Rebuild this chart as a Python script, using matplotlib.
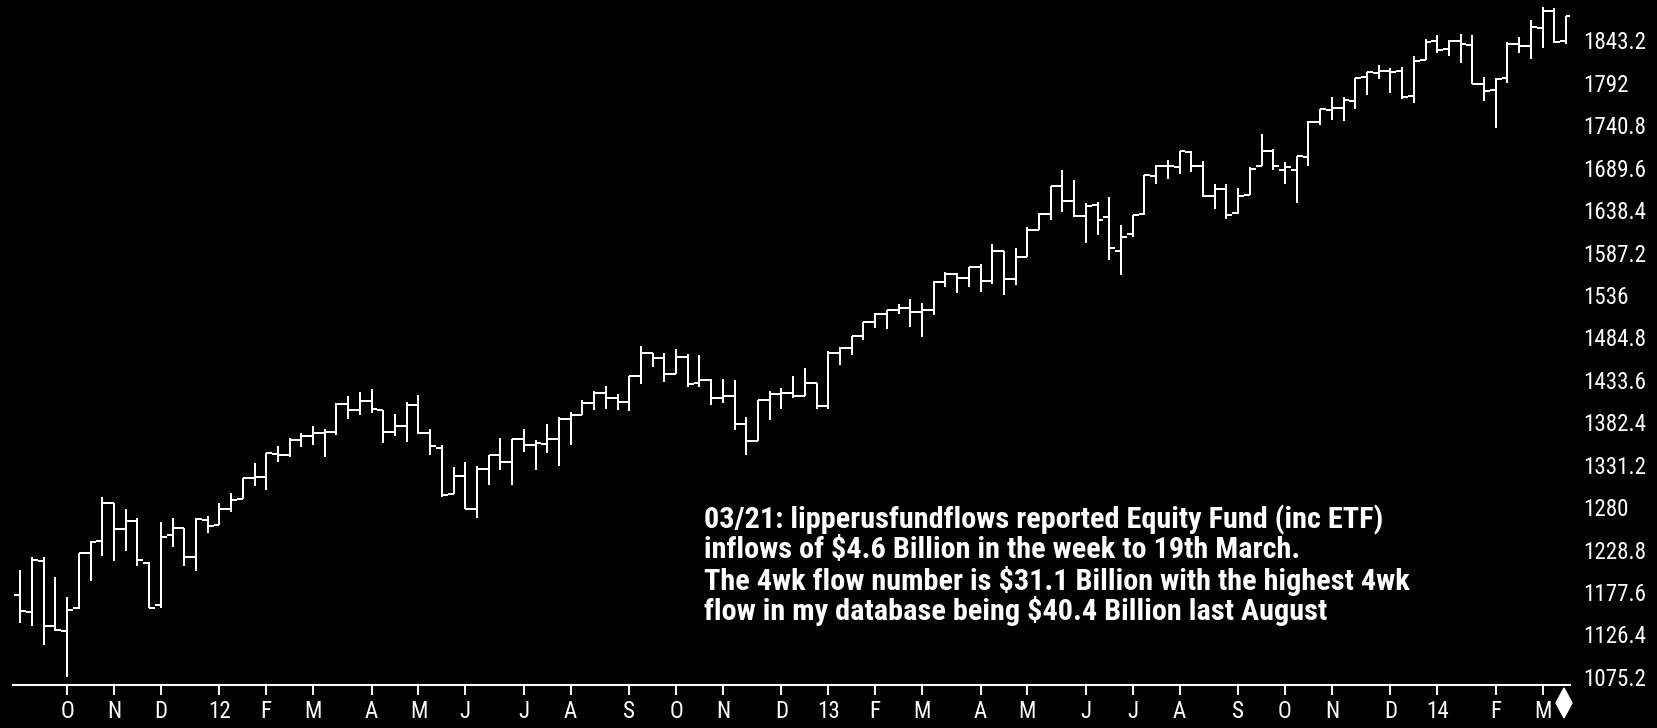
import matplotlib
matplotlib.use("Agg")
import matplotlib.pyplot as plt
from matplotlib import font_manager
from matplotlib.patches import Polygon
import pandas as pd

# Weekly S&P 500 bars, week ending Friday, from 2011-09-09 to 2014-03-21
first_week = "2011-09-09"

opens = [
    1174.0, 1153.5, 1214.6, 1136.9, 1131.2, 1158.2, 1224.5, 1238.7, 1285.0, 1253.2,
    1263.9, 1212.5, 1161.4, 1246.0, 1255.1, 1219.7, 1265.0, 1258.9, 1277.8, 1290.0,
    1315.3, 1316.2, 1344.3, 1343.1, 1361.2, 1366.2, 1369.6, 1370.8, 1405.0, 1397.1,
    1408.5, 1397.5, 1370.3, 1378.5, 1403.0, 1369.0, 1351.9, 1295.7, 1317.8, 1278.0,
    1325.9, 1343.0, 1334.9, 1362.3, 1354.7, 1356.5, 1362.3, 1385.8, 1391.0, 1405.9,
    1418.1, 1411.1, 1406.5, 1437.9, 1465.4, 1460.3, 1440.9, 1461.4, 1430.0, 1433.2,
    1411.3, 1414.0, 1379.9, 1359.9, 1409.2, 1417.0, 1418.1, 1413.5, 1430.2, 1402.4,
    1466.5, 1472.1, 1486.0, 1502.9, 1513.2, 1517.9, 1519.8, 1515.6, 1518.2, 1551.2,
    1560.7, 1556.9, 1569.2, 1553.3, 1588.6, 1555.3, 1582.3, 1614.4, 1633.7, 1667.5,
    1649.6, 1631.7, 1644.7, 1630.6, 1588.8, 1609.8, 1634.2, 1679.6, 1692.1, 1690.0,
    1708.0, 1691.0, 1655.3, 1664.3, 1635.0, 1656.9, 1691.7, 1709.9, 1687.3, 1687.2,
    1702.0, 1745.2, 1758.9, 1762.0, 1770.0, 1798.8, 1803.5, 1806.6, 1806.4, 1775.4,
    1820.0, 1842.6, 1832.3, 1842.3, 1837.9, 1791.0, 1782.7, 1798.0, 1838.6, 1836.8,
    1857.7, 1878.5, 1842.8,
]
highs = [
    1204.4, 1220.4, 1220.4, 1195.9, 1171.4, 1224.6, 1239.0, 1292.7, 1285.0, 1277.6,
    1267.0, 1213.5, 1262.0, 1267.1, 1255.1, 1267.0, 1269.4, 1284.6, 1296.8, 1315.5,
    1333.5, 1345.3, 1354.3, 1363.4, 1368.9, 1378.0, 1374.8, 1405.9, 1414.0, 1419.2,
    1422.4, 1397.5, 1392.8, 1406.6, 1415.3, 1373.9, 1354.5, 1328.5, 1334.9, 1329.1,
    1343.3, 1363.5, 1362.2, 1374.8, 1361.5, 1380.4, 1389.2, 1394.2, 1409.1, 1420.0,
    1426.7, 1416.9, 1438.0, 1474.5, 1465.6, 1465.4, 1471.0, 1464.3, 1464.0, 1435.0,
    1434.3, 1433.4, 1388.8, 1409.2, 1420.0, 1424.0, 1438.6, 1448.0, 1430.2, 1467.9,
    1472.8, 1486.0, 1503.3, 1514.4, 1518.3, 1524.7, 1530.9, 1525.8, 1552.5, 1563.6,
    1563.0, 1570.3, 1573.7, 1597.4, 1588.6, 1592.6, 1618.5, 1635.0, 1667.5, 1687.2,
    1674.2, 1646.5, 1648.7, 1654.2, 1620.1, 1632.1, 1680.2, 1693.1, 1698.8, 1709.7,
    1709.2, 1698.0, 1669.5, 1669.5, 1664.8, 1690.0, 1729.9, 1711.5, 1696.6, 1703.4,
    1745.3, 1759.8, 1775.2, 1774.5, 1798.2, 1804.8, 1813.6, 1810.0, 1811.5, 1823.8,
    1844.9, 1849.4, 1843.2, 1850.8, 1849.3, 1798.8, 1798.0, 1841.7, 1847.5, 1867.9,
    1883.6, 1882.4, 1872.0,
]
lows = [
    1140.1, 1136.1, 1114.2, 1131.1, 1074.8, 1157.0, 1191.5, 1220.5, 1215.4, 1226.6,
    1209.4, 1158.7, 1158.7, 1231.5, 1209.5, 1202.4, 1248.6, 1258.9, 1274.0, 1290.0,
    1306.1, 1300.5, 1334.5, 1340.8, 1352.3, 1354.9, 1340.0, 1366.7, 1386.9, 1391.5,
    1393.0, 1357.4, 1365.4, 1358.6, 1367.9, 1343.1, 1291.8, 1295.7, 1277.3, 1266.7,
    1306.6, 1324.4, 1306.6, 1346.6, 1325.4, 1345.1, 1329.2, 1354.7, 1391.0, 1397.5,
    1398.0, 1397.0, 1396.6, 1429.1, 1449.6, 1430.4, 1440.9, 1425.5, 1425.5, 1403.3,
    1405.6, 1373.0, 1343.4, 1359.9, 1385.4, 1398.1, 1411.9, 1413.5, 1398.1, 1398.1,
    1451.6, 1463.8, 1482.0, 1496.3, 1495.0, 1513.0, 1497.3, 1485.0, 1512.3, 1546.0,
    1538.6, 1545.6, 1539.5, 1548.6, 1536.0, 1548.5, 1581.3, 1614.4, 1626.7, 1635.5,
    1630.1, 1598.2, 1608.1, 1577.7, 1560.3, 1605.6, 1632.0, 1670.0, 1676.0, 1681.9,
    1684.9, 1654.2, 1639.4, 1627.5, 1633.4, 1656.9, 1691.7, 1687.1, 1670.4, 1646.5,
    1692.0, 1740.5, 1746.9, 1746.2, 1760.6, 1777.2, 1797.0, 1779.1, 1772.3, 1768.0,
    1820.0, 1827.7, 1823.7, 1815.3, 1790.3, 1770.5, 1737.9, 1791.8, 1828.0, 1821.0,
    1834.4, 1839.5, 1839.0,
]
closes = [
    1154.2, 1216.0, 1136.4, 1131.4, 1155.5, 1224.6, 1238.3, 1285.1, 1253.2, 1263.9,
    1215.7, 1158.7, 1244.3, 1255.2, 1219.7, 1265.3, 1257.6, 1277.8, 1289.1, 1315.4,
    1316.3, 1344.9, 1342.6, 1361.2, 1365.7, 1369.6, 1370.9, 1404.2, 1397.1, 1408.5,
    1398.1, 1370.3, 1378.5, 1403.4, 1369.1, 1353.4, 1295.2, 1317.8, 1278.0, 1325.7,
    1342.8, 1335.0, 1362.2, 1354.7, 1356.8, 1362.7, 1386.0, 1391.0, 1405.9, 1418.2,
    1411.1, 1406.6, 1437.9, 1465.8, 1460.2, 1440.7, 1460.9, 1428.6, 1433.2, 1411.9,
    1414.2, 1379.9, 1359.9, 1409.2, 1416.2, 1418.1, 1413.6, 1430.2, 1402.4, 1466.5,
    1472.1, 1486.0, 1503.0, 1513.2, 1517.9, 1519.8, 1515.6, 1518.2, 1551.2, 1560.7,
    1556.9, 1569.2, 1553.3, 1588.9, 1555.3, 1582.2, 1614.4, 1633.7, 1667.5, 1649.6,
    1630.7, 1643.4, 1626.7, 1592.4, 1606.3, 1631.9, 1680.2, 1692.1, 1691.7, 1709.7,
    1691.4, 1655.8, 1663.5, 1633.0, 1655.2, 1688.0, 1709.9, 1691.8, 1690.5, 1703.2,
    1744.5, 1759.8, 1761.6, 1770.6, 1798.2, 1804.8, 1805.8, 1805.1, 1775.3, 1818.3,
    1841.4, 1831.4, 1842.4, 1838.7, 1790.3, 1782.6, 1797.0, 1838.6, 1836.3, 1859.5,
    1878.0, 1841.1, 1872.0,
]

price_ticks = [1075.2, 1126.4, 1177.6, 1228.8, 1280, 1331.2, 1382.4, 1433.6,
               1484.8, 1536, 1587.2, 1638.4, 1689.6, 1740.8, 1792, 1843.2]

note_lines = [
    "03/21: lipperusfundflows reported Equity Fund (inc ETF)",
    "inflows of $4.6 Billion in the week to 19th March.",
    "The 4wk flow number is $31.1 Billion with the highest 4wk",
    "flow in my database being $40.4 Billion last August",
]

W, H = 1658, 728
FONTS = font_manager.fontManager.ttflist


def _weight(w):
    if isinstance(w, int):
        return w
    return {"bold": 700, "semibold": 600, "demibold": 600, "extra bold": 800,
            "heavy": 800, "black": 900}.get(str(w).lower(), 400)


def narrow_font():
    """Pick a narrow sans face (name, stretch); plain sans if there is none."""
    for name in ["Liberation Sans Narrow", "Arial Narrow", "Roboto Condensed",
                 "Open Sans Condensed", "Noto Sans Condensed", "DejaVu Sans Condensed",
                 "Noto Sans Display Condensed"]:
        if any(f.name == name for f in FONTS):
            return name, "normal"
    for fam in ["Noto Sans", "Open Sans", "Roboto", "DejaVu Sans", "Liberation Sans"]:
        for st in ("condensed", "semi-condensed"):
            if any(f.name == fam and str(f.stretch) == st for f in FONTS):
                return fam, st
    for f in FONTS:
        n = f.name.lower()
        if ("narrow" in n or "condensed" in n) and "mono" not in n:
            return f.name, "normal"
    return "Liberation Sans", "normal"


FONT, STRETCH = narrow_font()
BOLD_OK = any(f.name == FONT and _weight(f.weight) >= 600 for f in FONTS)
plt.rcParams["font.family"] = [FONT, "DejaVu Sans"]
plt.rcParams["font.stretch"] = STRETCH

dates = pd.date_range(first_week, periods=len(closes), freq="W-FRI")
xs = list(range(len(closes)))

fig = plt.figure(figsize=(W / 100, H / 100), dpi=100, facecolor="black")
renderer = fig.canvas.get_renderer()


def fit_size(s, target_px, base=20, **kw):
    t = fig.text(0, 0, s, fontsize=base, **kw)
    w = t.get_window_extent(renderer).width
    t.remove()
    return base * target_px / w


note_weight = "bold" if BOLD_OK else "normal"
tick_fs = min(19, fit_size("1843.2", 63))
note_fs = min(24, fit_size(note_lines[0], 677, fontweight=note_weight))

ax = fig.add_axes([13.3 / W, (H - 685.3) / H, (1570 - 13.3) / W, 685.3 / H])
ax.set_facecolor("black")

lw = 1.45
ax.vlines(xs, lows, highs, color="white", lw=lw)
ax.hlines(opens, [x - 0.5 for x in xs], xs, color="white", lw=lw)
ax.hlines(closes, xs, [x + 0.5 for x in xs], color="white", lw=lw)

ax.set_xlim(-0.6, 132.34)
ax.set_ylim(1065.1, 1891.8)

# month ticks at the first bar of each month; January shows the year
letters = "JFMAMJJASOND"
mpos, mlab = [], []
for i in range(1, len(dates)):
    if dates[i].month != dates[i - 1].month:
        mpos.append(i)
        d = dates[i]
        mlab.append(f"{d.year % 100:02d}" if d.month == 1 else letters[d.month - 1])
ax.set_xticks(mpos)
ax.set_xticklabels(mlab)
ax.tick_params(axis="x", colors="white", direction="out", length=7.2, width=1.4,
               pad=3.5, labelsize=tick_fs)

ax.yaxis.tick_right()
ax.set_yticks(price_ticks)
ax.set_yticklabels([f"{v:g}" for v in price_ticks])
ax.tick_params(axis="y", colors="white", length=0, pad=9.5, labelsize=tick_fs)

for side in ("top", "left", "right"):
    ax.spines[side].set_visible(False)
ax.spines["bottom"].set_color("white")
ax.spines["bottom"].set_linewidth(1.5)

for k, line in enumerate(note_lines):
    fig.text(704 / W, 1 - (520 + 30.4 * k) / H, line, color="white",
             fontsize=note_fs, fontweight=note_weight, va="center", ha="left")

# scroll marker under the last bar
cx, top, bot, hw = 1564, 688, 718, 8
pts = [(cx, top), (cx + hw, (top + bot) / 2), (cx, bot), (cx - hw, (top + bot) / 2)]
fig.add_artist(Polygon([(px / W, 1 - py / H) for px, py in pts], closed=True,
                       transform=fig.transFigure, facecolor="white", edgecolor="white"))

fig.savefig("out.png", dpi=100, facecolor="black")
